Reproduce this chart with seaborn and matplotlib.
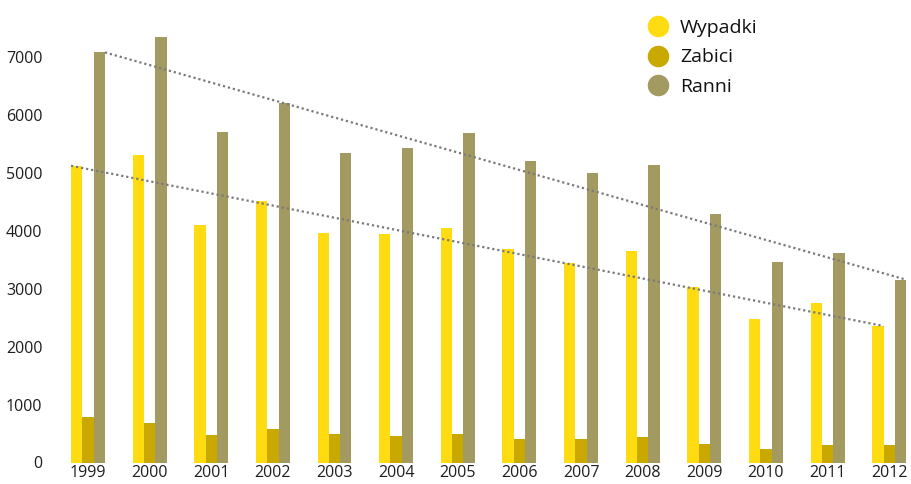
import numpy as np
import pandas as pd
import matplotlib
matplotlib.use('Agg')
import matplotlib.pyplot as plt
from matplotlib.lines import Line2D
import seaborn as sns

sns.set_style('white')
plt.rcParams['font.family'] = ['Open Sans', 'DejaVu Sans']

years = ['1999', '2000', '2001', '2002', '2003', '2004', '2005',
         '2006', '2007', '2008', '2009', '2010', '2011', '2012']
wypadki = [5126, 5316, 4102, 4516, 3964, 3941, 4050, 3682, 3451, 3658, 3036, 2484, 2749, 2358]
zabici = [781, 677, 475, 573, 498, 452, 487, 400, 406, 440, 325, 239, 297, 297]
ranni = [7085, 7343, 5703, 6204, 5340, 5426, 5686, 5213, 4995, 5133, 4297, 3457, 3624, 3158]
series = ['Wypadki', 'Zabici', 'Ranni']
colors = ['#FFDB12', '#C9A900', '#A39A62']

df = pd.DataFrame({'rok': years, 'Wypadki': wypadki, 'Zabici': zabici, 'Ranni': ranni})
long = df.melt(id_vars='rok', var_name='seria', value_name='liczba')

fig = plt.figure(figsize=(9.12, 4.84), dpi=100)
ax = fig.add_axes([55 / 912, 21.5 / 484, 1 - 55 / 912, 1 - 21.5 / 484])

gw = 0.55
sns.barplot(data=long, x='rok', y='liczba', hue='seria', hue_order=series,
            palette=colors, width=gw, gap=0, saturation=1, linewidth=0,
            ax=ax, legend=False)

bw = gw / 3
# dotted lines joining first and last year
n = len(years)
ax.plot([0 - gw / 2, n - 1 - gw / 2 + bw], [wypadki[0], wypadki[-1]],
        ls=(0, (1, 1.3)), lw=1.6, color='#7a7a7a', zorder=5)
ax.plot([0 + gw / 2, n - 1 + gw / 2], [ranni[0], ranni[-1]],
        ls=(0, (1, 1.3)), lw=1.6, color='#7a7a7a', zorder=5)

ax.set_xlim(-0.535, 13.37)
ax.set_ylim(0, 7990)
ax.set_yticks(range(0, 8000, 1000))
ax.set_xlabel('')
ax.set_ylabel('')
ax.tick_params(axis='both', length=0, labelsize=11.5, colors='#1e1e1e')
ax.tick_params(axis='y', pad=9)
ax.tick_params(axis='x', pad=2)
sns.despine(ax=ax, left=True, bottom=True)

handles = [Line2D([], [], ls='', marker='o', markersize=14.5, color=c) for c in colors]
fig.legend(handles, series, loc='upper left', bbox_to_anchor=(637 / 912, 1 - 9 / 484),
           frameon=False, fontsize=14, handletextpad=0.5, labelspacing=0.6,
           handlelength=1.2, borderpad=0, labelcolor='#111111')

fig.savefig('out.png', dpi=100, facecolor='white')
